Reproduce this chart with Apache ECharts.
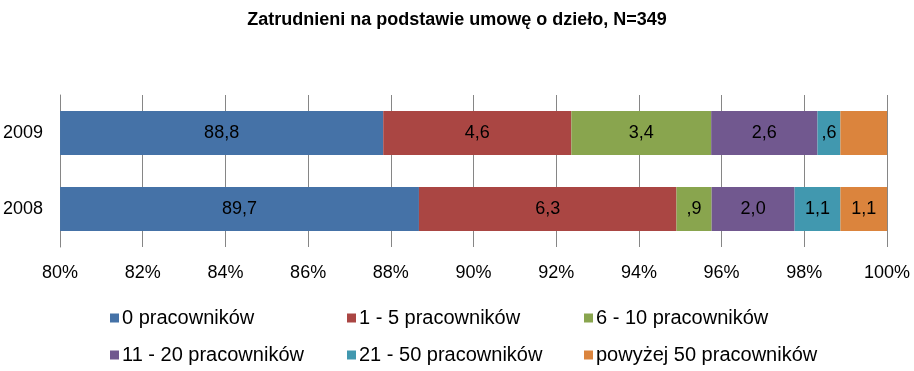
<!DOCTYPE html>
<html><head><meta charset="utf-8">
<script src="https://cdn.jsdelivr.net/npm/echarts@6/dist/echarts.min.js"></script>
<style>html,body{margin:0;padding:0;background:#fff}#c{width:914px;height:371px}</style>
</head><body><div id="c"></div>
<script>
const categories = ['2008', '2009'];
const seriesNames = ['0 pracowników', '1 - 5 pracowników', '6 - 10 pracowników', '11 - 20 pracowników', '21 - 50 pracowników', 'powyżej 50 pracowników'];
// raw values per series, in category order [2008, 2009]
const v0 = [89.7, 88.8];
const v1 = [6.3, 4.6];
const v2 = [0.86, 3.42];
const v3 = [2.03, 2.6];
const v4 = [1.12, 0.56];
const v5 = [1.14, 1.14];
const showLabel5 = [true, false];
const xTicks = [80, 82, 84, 86, 88, 90, 92, 94, 96, 98, 100];
const colors = ['#4572A7', '#AA4643', '#89A54E', '#71588F', '#4198AF', '#DB843D'];

const raw = [v0, v1, v2, v3, v4, v5];
const totals = categories.map((_, i) => raw.reduce((s, arr) => s + arr[i], 0));
const fmt = v => { const s = v.toFixed(1).replace('.', ','); return v < 1 ? s.replace(/^0/, '') : s; };
const FONT = '"Liberation Sans", Arial, sans-serif';

const series = raw.map((arr, k) => ({
  name: seriesNames[k], type: 'bar', stack: 'all', barWidth: 44,
  itemStyle: { color: colors[k] },
  data: arr.map((v, i) => ({
    value: v / totals[i] * 100, raw: v,
    label: { show: k === 5 ? showLabel5[i] : true }
  })),
  label: { position: 'inside', color: '#000', fontSize: 18, fontFamily: FONT,
    formatter: p => fmt(p.data.raw) }
}));

const legendX = [110, 347, 584];
const legendY = [308, 345];
const legends = seriesNames.map((n, k) => ({
  data: [n], left: legendX[k % 3], top: legendY[Math.floor(k / 3)],
  icon: 'rect', itemWidth: 9, itemHeight: 9, itemGap: 4, padding: 0,
  textStyle: { fontSize: 20, fontFamily: FONT, color: '#000', padding: [0, 0, 0, -2] },
  selectedMode: false
}));

const chart = echarts.init(document.getElementById('c'), null, { renderer: 'canvas' });
chart.setOption({
  animation: false,
  title: { text: 'Zatrudnieni na podstawie umowę o dzieło, N=349', left: 'center', top: 6,
    textStyle: { fontSize: 18, fontWeight: 'bold', fontFamily: FONT, color: '#000' } },
  grid: { left: 60, right: 27, top: 95, bottom: 124, containLabel: false },
  xAxis: { type: 'value', min: xTicks[0], max: xTicks[xTicks.length - 1], interval: 2,
    axisLine: { show: false },
    axisTick: { show: false },
    splitLine: { show: true, lineStyle: { color: '#868686', width: 1 } },
    axisLabel: { formatter: v => v + '%', fontSize: 18, fontFamily: FONT, color: '#000', margin: 17 } },
  yAxis: { type: 'category', data: categories,
    axisLine: { show: true, lineStyle: { color: '#868686' } },
    axisTick: { show: false },
    axisLabel: { fontSize: 18, fontFamily: FONT, color: '#000', margin: 17 } },
  legend: legends,
  series: series
});
</script></body></html>
